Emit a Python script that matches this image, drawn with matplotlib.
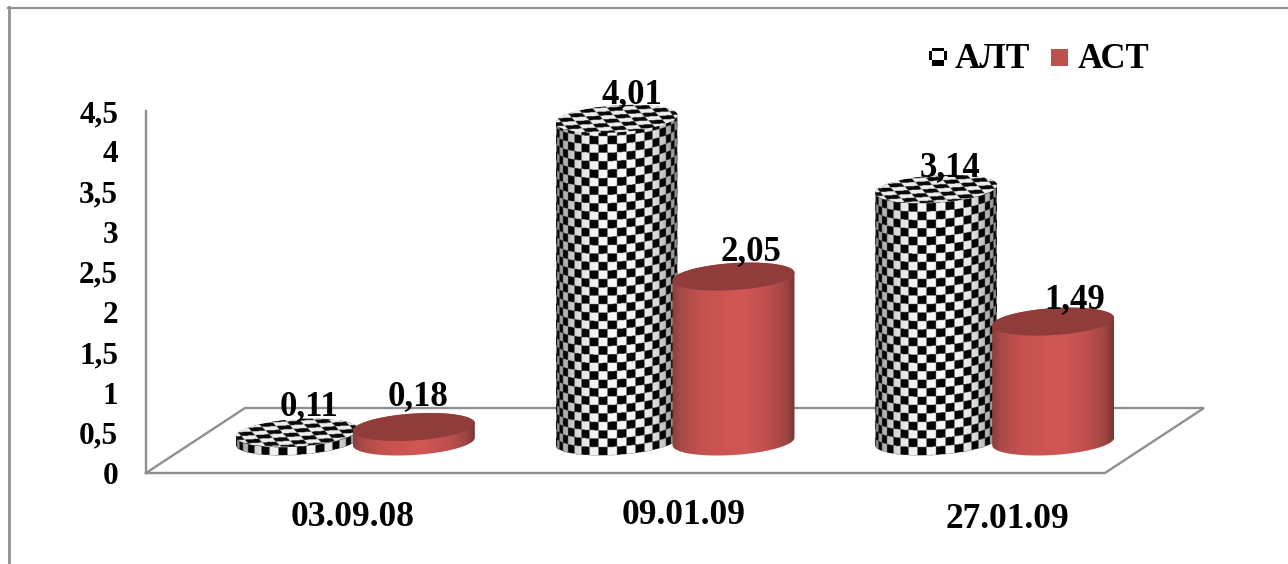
import numpy as np
import matplotlib
matplotlib.use("Agg")
import matplotlib.pyplot as plt
from matplotlib.patches import PathPatch, Rectangle
from matplotlib.path import Path

# Values
categories = ['03.09.08', '09.01.09', '27.01.09']
series_names = ['АЛТ', 'АСТ']
alt_values = [0.11, 4.01, 3.14]
ast_values = [0.18, 2.05, 1.49]
value_labels_alt = ['0,11', '4,01', '3,14']
value_labels_ast = ['0,18', '2,05', '1,49']
y_ticks = [0, 0.5, 1, 1.5, 2, 2.5, 3, 3.5, 4, 4.5]
y_tick_labels = ['0', '0,5', '1', '1,5', '2', '2,5', '3', '3,5', '4', '4,5']

W, H = 1288, 564
LEFT, RIGHT, BASE, TOP = 146, 1105, 473, 111
GREY = '#8f8f8f'
PX_X = (RIGHT - LEFT) / 3
PX_Y = (BASE - TOP) / 4.5

plt.rcParams['font.family'] = ['Liberation Serif', 'DejaVu Serif']
plt.rcParams['font.weight'] = 'bold'

fig = plt.figure(figsize=(W / 100, H / 100), dpi=100, facecolor='white')
ax = fig.add_axes([LEFT / W, 1 - BASE / H, (RIGHT - LEFT) / W, (BASE - TOP) / H])
ax.patch.set_alpha(0)
for s in ax.spines.values():
    s.set_visible(False)

# cylinder size and floor depth, in axis units
half_w = 61 / PX_X
half_h = 13.5 / PX_Y
tilt = 3.8 / PX_Y
offset = 58.5 / PX_X
depth_x = 99 / PX_X
depth_y = 65 / PX_Y


def outline(cx, y0, y1):
    t1 = np.linspace(np.pi, 2 * np.pi, 80)
    t2 = np.linspace(0, np.pi, 80)
    xs = np.r_[cx + half_w * np.cos(t1), cx + half_w * np.cos(t2)]
    ys = np.r_[y0 + half_h * np.sin(t1) + tilt * np.cos(t1),
               y1 + half_h * np.sin(t2) + tilt * np.cos(t2)]
    return np.c_[xs, ys]


def top_ellipse(cx, y1):
    t = np.linspace(0, 2 * np.pi, 160)
    return np.c_[cx + half_w * np.cos(t), y1 + half_h * np.sin(t) + tilt * np.cos(t)]


def clipped_image(img, extent, verts, z):
    patch = PathPatch(Path(verts), facecolor='none', edgecolor='none', zorder=z, clip_on=False)
    ax.add_patch(patch)
    im = ax.imshow(img, extent=extent, origin='lower', aspect='auto', zorder=z,
                   interpolation='bilinear')
    # the tops and the last cylinder stick out of the axes box
    im.set_clip_box(fig.bbox)
    im.set_clip_path(patch)


def grid_for(cx, y0, y1):
    x0, x1 = cx - half_w, cx + half_w
    ylo, yhi = y0 - half_h - tilt, y1 + half_h + tilt
    nx = int((x1 - x0) * PX_X * 2)
    ny = max(int((yhi - ylo) * PX_Y * 2), 8)
    xs = np.linspace(x0, x1, nx)
    ys = np.linspace(ylo, yhi, ny)
    gx, gy = np.meshgrid(xs, ys)
    return gx, gy, [x0, x1, ylo, yhi]


def checker_body(cx, y0, y1, z):
    gx, gy, ext = grid_for(cx, y0, y1)
    n = np.clip((gx - cx) / half_w, -0.999, 0.999)
    # rows follow the front curve of the cylinder
    v = (gy - y0 + half_h * np.sqrt(1 - n ** 2) - tilt * n) * PX_Y
    u = np.arcsin(n) * 61
    cells = (np.floor(u / 9.5) + np.floor(v / 8.4)) % 2
    shade = 0.97 - 0.45 * np.abs(n) ** 3
    val = cells * shade + (1 - cells) * 0.02
    clipped_image(np.dstack([val] * 3), ext, outline(cx, y0, y1), z)


def checker_top(cx, y1, z):
    gx, gy, ext = grid_for(cx, y1, y1)
    n = (gx - cx) / half_w
    u = (gx - cx) * PX_X
    v = (gy - y1 - tilt * n) * PX_Y
    cells = (np.floor((u + 0.9 * v) / 14) + np.floor(v / 3.9)) % 2
    val = cells * 0.93 + (1 - cells) * 0.03
    clipped_image(np.dstack([val] * 3), ext, top_ellipse(cx, y1), z)


def red_body(cx, y0, y1, z):
    gx, gy, ext = grid_for(cx, y0, y1)
    n = (gx - cx) / half_w
    pos = [-1, -0.86, -0.55, 0.1, 0.55, 0.86, 1]
    r = np.interp(n, pos, [0x8c, 0xa8, 0xc4, 0xd2, 0xc0, 0x9e, 0x78])
    g = np.interp(n, pos, [0x3e, 0x4a, 0x52, 0x57, 0x50, 0x45, 0x36])
    b = np.interp(n, pos, [0x3c, 0x48, 0x4f, 0x54, 0x4d, 0x42, 0x34])
    clipped_image(np.dstack([r, g, b]) / 255, ext, outline(cx, y0, y1), z)


def red_top(cx, y1, z):
    ax.add_patch(PathPatch(Path(top_ellipse(cx, y1)), facecolor='#8f3c3a', edgecolor='none',
                           zorder=z, clip_on=False))


# floor and back edge of the chart
ax.plot([0, 0], [0, 4.5], color=GREY, lw=1.7, zorder=1, clip_on=False)
ax.plot([0, 3, 3 + depth_x, depth_x, 0], [0, 0, depth_y, depth_y, 0], color=GREY, lw=1.7,
        zorder=1, clip_on=False, solid_joinstyle='miter')

base_y = depth_y / 2 - 1 / PX_Y
z = 3
for i, cat in enumerate(categories):
    centre = i + 0.5 + depth_x / 2
    xa = centre - offset
    xb = centre + offset
    ya = base_y + alt_values[i]
    yb = base_y + ast_values[i]
    checker_body(xa, base_y, ya, z)
    checker_top(xa, ya, z + 1)
    red_body(xb, base_y, yb, z + 2)
    red_top(xb, yb, z + 3)
    z += 4

# value labels were nudged by hand in the original
alt_nudge = [(12, 10), (15, 8), (14, 5)]
ast_nudge = [(4, 14), (17, 8), (21, 6)]
for i, cat in enumerate(categories):
    centre = i + 0.5 + depth_x / 2
    ax.annotate(value_labels_alt[i], (centre - offset, base_y + alt_values[i]), xytext=alt_nudge[i],
                textcoords='offset pixels', ha='center', va='bottom', fontsize=25, color='black',
                zorder=50, annotation_clip=False)
    ax.annotate(value_labels_ast[i], (centre + offset, base_y + ast_values[i]), xytext=ast_nudge[i],
                textcoords='offset pixels', ha='center', va='bottom', fontsize=25, color='black',
                zorder=50, annotation_clip=False)

ax.set_xlim(0, 3)
ax.set_ylim(0, 4.5)
ax.set_yticks(y_ticks)
ax.set_yticklabels(y_tick_labels, fontsize=22.5, fontweight='bold')
ax.tick_params(axis='y', length=0, pad=20)
ax.set_xticks([])

label_shift = [-3, 9, 13]
label_y = [517, 515, 519]
for i, cat in enumerate(categories):
    px = LEFT + (i + 0.5 + depth_x / 2) * PX_X + label_shift[i]
    fig.text(px / W, 1 - label_y[i] / H, cat, ha='center', va='center', fontsize=25.5, color='black')

# legend
fig.text(955 / W, 1 - 60 / H, series_names[0], ha='left', va='center', fontsize=25.5, color='black')
fig.text(1078 / W, 1 - 60 / H, series_names[1], ha='left', va='center', fontsize=25, color='black')
fig.add_artist(Rectangle((1051 / W, 1 - 66 / H), 17 / W, 17 / H, transform=fig.transFigure,
                         facecolor='#c0504d', edgecolor='none'))
swatch = fig.add_axes([929 / W, 1 - 66 / H, 18 / W, 18 / H])
swatch.imshow([[1, 0, 0, 0, 0, 1],
               [0, 1, 1, 1, 1, 0],
               [0, 1, 1, 1, 1, 0],
               [0, 1, 1, 1, 1, 0],
               [1, 0, 0, 0, 0, 1],
               [1, 0, 0, 0, 0, 1]], cmap='gray', interpolation='nearest', aspect='auto')
swatch.axis('off')

# outer frame, open at the right and bottom edges of the crop
fig.add_artist(plt.Line2D([9.3 / W, 9.3 / W], [0, 1 - 7 / H], transform=fig.transFigure, color=GREY, lw=2))
fig.add_artist(plt.Line2D([8 / W, 1], [1 - 8 / H, 1 - 8 / H], transform=fig.transFigure, color=GREY, lw=1.5))

fig.savefig('out.png', dpi=100)
